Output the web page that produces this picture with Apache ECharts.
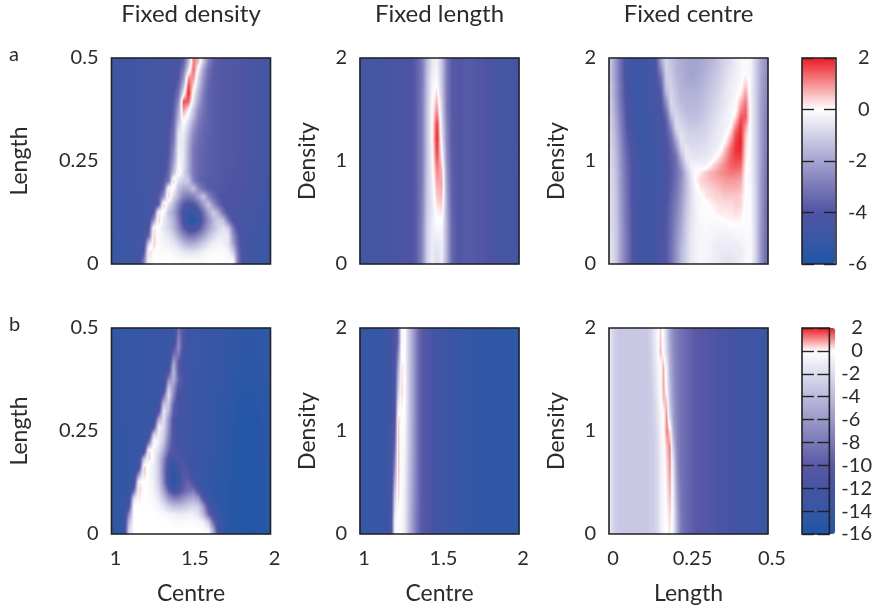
<!DOCTYPE html>
<html><head><meta charset="utf-8">
<style>html,body{margin:0;padding:0;background:#fff}#c{width:875px;height:610px}</style>
<script src="https://cdn.jsdelivr.net/npm/echarts@6/dist/echarts.min.js"></script>
</head><body><div id="c"></div>
<script>
// Rows run from the top of each panel to the bottom; columns from left to right.
const a1Rows=[
[-4.8,-4.8,-4.7,-4.7,-4.7,-4.6,-4.6,-4.6,-4.5,-4.5,-4.5,-4.4,-4.3,-4.2,-3.6,-1.6,1.2,0.6,-1.2,-2.8,-3.6,-3.85,-3.9,-3.9,-3.9,-3.9,-4,-4.1,-4.2,-4.3,-4.5,-4.6],
[-4.8,-4.8,-4.7,-4.7,-4.7,-4.6,-4.6,-4.6,-4.5,-4.5,-4.5,-4.4,-4.3,-4,-3,-0.6,1.4,-0.3,-2,-3.2,-3.75,-3.85,-3.9,-3.9,-3.9,-3.9,-4,-4.1,-4.2,-4.3,-4.5,-4.6],
[-4.8,-4.8,-4.7,-4.7,-4.7,-4.6,-4.6,-4.6,-4.5,-4.5,-4.5,-4.4,-4.2,-3.9,-2.4,1,1,-0.8,-2.4,-3.4,-3.75,-3.85,-3.9,-3.9,-3.9,-3.9,-4,-4.1,-4.2,-4.3,-4.5,-4.6],
[-4.8,-4.8,-4.7,-4.7,-4.7,-4.6,-4.6,-4.6,-4.5,-4.5,-4.5,-4.4,-4.2,-3.6,-1.6,1.7,0.4,-1.2,-2.6,-3.5,-3.75,-3.85,-3.9,-3.9,-3.9,-3.9,-4,-4.1,-4.2,-4.3,-4.5,-4.6],
[-4.8,-4.8,-4.7,-4.7,-4.7,-4.6,-4.6,-4.6,-4.5,-4.5,-4.5,-4.4,-4,-3.2,-0.4,2,-0.2,-1.7,-2.9,-3.6,-3.75,-3.85,-3.9,-3.9,-3.9,-3.9,-4,-4.1,-4.2,-4.3,-4.5,-4.6],
[-4.8,-4.8,-4.7,-4.7,-4.7,-4.6,-4.6,-4.6,-4.5,-4.5,-4.5,-4.4,-3.9,-2.6,1.6,1.4,-0.6,-2,-3,-3.6,-3.75,-3.85,-3.9,-3.9,-3.9,-3.9,-4,-4.1,-4.2,-4.3,-4.5,-4.6],
[-4.8,-4.8,-4.7,-4.7,-4.7,-4.6,-4.6,-4.6,-4.5,-4.5,-4.5,-4.3,-3.7,-2,1,0.2,-1.2,-2.5,-3.2,-3.6,-3.75,-3.85,-3.9,-3.9,-3.9,-3.9,-4,-4.1,-4.2,-4.3,-4.5,-4.6],
[-4.8,-4.8,-4.7,-4.7,-4.7,-4.6,-4.6,-4.6,-4.5,-4.5,-4.5,-4.3,-3.6,-1.6,0.3,-0.4,-1.6,-2.8,-3.3,-3.6,-3.75,-3.85,-3.9,-3.9,-3.9,-3.9,-4,-4.1,-4.2,-4.3,-4.5,-4.6],
[-4.8,-4.8,-4.7,-4.7,-4.7,-4.6,-4.6,-4.6,-4.5,-4.5,-4.5,-4.2,-3.4,-1,-0.1,-1,-2.2,-3,-3.4,-3.6,-3.75,-3.85,-3.9,-3.9,-3.9,-3.9,-4,-4.1,-4.2,-4.3,-4.5,-4.6],
[-4.8,-4.8,-4.7,-4.7,-4.7,-4.6,-4.6,-4.6,-4.5,-4.5,-4.4,-4,-3.2,-0.5,-0.4,-1.4,-2.6,-3.2,-3.5,-3.6,-3.75,-3.85,-3.9,-3.9,-3.9,-3.9,-4,-4.1,-4.2,-4.3,-4.5,-4.6],
[-4.8,-4.8,-4.7,-4.7,-4.7,-4.6,-4.6,-4.6,-4.5,-4.5,-4.4,-4,-3,-0.4,-0.5,-1.6,-2.8,-3.3,-3.5,-3.7,-3.75,-3.85,-3.9,-3.9,-3.9,-3.9,-4,-4.1,-4.2,-4.3,-4.5,-4.6],
[-4.8,-4.8,-4.7,-4.7,-4.7,-4.6,-4.6,-4.6,-4.5,-4.5,-4.4,-3.9,-2.6,-0.3,-0.5,-1.8,-3,-3.4,-3.6,-3.7,-3.8,-3.85,-3.9,-3.9,-3.9,-3.9,-4,-4.1,-4.2,-4.3,-4.5,-4.6],
[-4.8,-4.8,-4.7,-4.7,-4.7,-4.6,-4.6,-4.6,-4.5,-4.5,-4.4,-3.8,-2.4,-0.2,-0.5,-1.8,-3,-3.4,-3.6,-3.7,-3.8,-3.85,-3.9,-3.9,-3.9,-4,-4,-4.1,-4.2,-4.4,-4.5,-4.6],
[-4.8,-4.8,-4.7,-4.7,-4.7,-4.6,-4.6,-4.6,-4.5,-4.5,-4.3,-3.6,-2,-0.1,-0.6,-1.8,-3,-3.4,-3.6,-3.7,-3.8,-3.85,-3.9,-3.9,-3.9,-4,-4,-4.1,-4.2,-4.4,-4.5,-4.6],
[-4.8,-4.8,-4.7,-4.7,-4.7,-4.6,-4.6,-4.6,-4.5,-4.5,-4.2,-3.4,-1.4,0.3,-0.7,-1.8,-3,-3.4,-3.6,-3.7,-3.8,-3.85,-3.9,-3.9,-4,-4,-4.1,-4.2,-4.3,-4.4,-4.6,-4.7],
[-4.8,-4.8,-4.8,-4.7,-4.7,-4.6,-4.6,-4.6,-4.5,-4.4,-3.8,-3.2,0.6,-0.7,-1.1,-1.2,-2.8,-3.5,-3.7,-3.8,-3.8,-3.85,-3.9,-3.9,-4,-4,-4.1,-4.2,-4.3,-4.5,-4.6,-4.7],
[-4.8,-4.8,-4.8,-4.7,-4.7,-4.6,-4.6,-4.6,-4.5,-4.2,-3.6,0.3,-0.1,-1.4,-1.9,-1.9,-1.3,-2.5,-3.3,-3.7,-3.8,-3.9,-3.9,-4,-4,-4.1,-4.2,-4.3,-4.4,-4.5,-4.6,-4.7],
[-4.9,-4.8,-4.8,-4.7,-4.7,-4.7,-4.6,-4.6,-4.4,-3.8,-2.4,0.5,-0.8,-1.8,-2.8,-3,-2.8,-2,-1.2,-2.6,-3.4,-3.9,-4,-4,-4.1,-4.2,-4.2,-4.3,-4.4,-4.5,-4.6,-4.8],
[-4.9,-4.8,-4.8,-4.8,-4.7,-4.7,-4.6,-4.6,-4.3,-3.8,0.6,-0.6,-1.5,-2.8,-3.8,-4.2,-4,-3.2,-2.2,-1.2,-2.4,-3.4,-4,-4.1,-4.1,-4.2,-4.3,-4.4,-4.5,-4.6,-4.7,-4.8],
[-4.9,-4.9,-4.8,-4.8,-4.7,-4.7,-4.7,-4.5,-4,0.3,-0.1,-1.3,-2,-3.2,-4.3,-5,-5.2,-4.4,-3.2,-2,-1.1,-1.8,-3.2,-4.1,-4.2,-4.3,-4.4,-4.4,-4.5,-4.6,-4.7,-4.9],
[-4.9,-4.9,-4.8,-4.8,-4.8,-4.7,-4.7,-4.4,-2.4,0.5,-0.5,-1,-1.7,-2.9,-4.2,-5.4,-5.8,-4.8,-3.6,-2.5,-1.6,-1,-1.3,-3,-4.2,-4.3,-4.4,-4.5,-4.6,-4.7,-4.8,-4.9],
[-5,-4.9,-4.9,-4.8,-4.8,-4.7,-4.6,-4.2,0.3,-0.1,-0.5,-0.9,-1.5,-2.5,-3.6,-4.4,-4.6,-4,-3,-2.1,-1.4,-0.9,-0.6,-1,-3,-4.3,-4.5,-4.6,-4.6,-4.7,-4.8,-5],
[-5,-4.9,-4.9,-4.8,-4.8,-4.7,-4.5,-3.4,0.4,-0.1,-0.3,-0.5,-1,-1.7,-2.5,-3,-3,-2.6,-2,-1.4,-0.9,-0.5,-0.4,-0.5,-2.4,-3.7,-4.5,-4.6,-4.7,-4.8,-4.9,-5],
[-5,-5,-4.9,-4.9,-4.8,-4.7,-4.4,-0.8,0.4,-0.1,-0.2,-0.3,-0.5,-0.9,-1.4,-1.7,-1.7,-1.4,-1,-0.6,-0.3,-0.2,-0.3,-0.6,-2,-3.6,-4.5,-4.6,-4.7,-4.8,-4.9,-5],
[-5,-5,-4.9,-4.9,-4.8,-4.7,-4,0.4,0,-0.1,-0.1,-0.1,-0.2,-0.3,-0.5,-0.6,-0.6,-0.5,-0.3,-0.2,-0.1,-0.1,-0.1,-0.2,-1,-3.2,-4.4,-4.6,-4.7,-4.8,-4.9,-5],
[-5,-5,-4.9,-4.9,-4.8,-4.7,-3,0.2,0,0,0,0,0,-0.1,-0.1,-0.1,-0.1,-0.1,-0.1,0,0,0,0,-0.1,-0.1,-3,-4.4,-4.6,-4.7,-4.8,-4.9,-5]
];
const a2Rows=[
[-4.6,-4.6,-4.5,-4.5,-4.4,-4.3,-4.3,-4.2,-4.2,-4.1,-4,-3.6,-3,-1.5,-0.5,-0.3,-1.3,-3,-3.8,-3.9,-3.9,-3.8,-3.8,-3.9,-3.9,-4,-4.2,-4.3,-4.4,-4.5,-4.5,-4.6],
[-4.6,-4.6,-4.5,-4.5,-4.4,-4.3,-4.3,-4.2,-4.2,-4.1,-4,-3.6,-3,-1.4,-0.3,-0.1,-1.3,-3,-3.8,-3.9,-3.9,-3.8,-3.8,-3.9,-3.9,-4,-4.2,-4.3,-4.4,-4.5,-4.5,-4.6],
[-4.6,-4.6,-4.5,-4.5,-4.4,-4.3,-4.3,-4.2,-4.2,-4.1,-4,-3.6,-2.9,-1.4,-0.2,0.4,-1.2,-3,-3.8,-3.9,-3.9,-3.8,-3.8,-3.9,-3.9,-4,-4.2,-4.3,-4.4,-4.5,-4.5,-4.6],
[-4.6,-4.6,-4.5,-4.5,-4.4,-4.3,-4.3,-4.2,-4.2,-4.1,-4,-3.6,-2.9,-1.3,-0.1,1,-1,-3,-3.8,-3.9,-3.9,-3.8,-3.8,-3.9,-3.9,-4,-4.2,-4.3,-4.4,-4.5,-4.5,-4.6],
[-4.6,-4.6,-4.5,-4.5,-4.4,-4.3,-4.3,-4.2,-4.2,-4.1,-4,-3.6,-2.9,-1.3,-0.1,1.8,-0.8,-2.8,-3.8,-3.9,-3.9,-3.8,-3.8,-3.9,-3.9,-4,-4.2,-4.3,-4.4,-4.5,-4.5,-4.6],
[-4.6,-4.6,-4.5,-4.5,-4.4,-4.3,-4.3,-4.2,-4.2,-4.1,-4,-3.6,-2.9,-1.3,-0.1,2,-0.5,-2.7,-3.8,-3.9,-3.9,-3.8,-3.8,-3.9,-3.9,-4,-4.2,-4.3,-4.4,-4.5,-4.5,-4.6],
[-4.6,-4.6,-4.5,-4.5,-4.4,-4.3,-4.3,-4.2,-4.2,-4.1,-4,-3.6,-2.9,-1.3,-0.2,1.7,0,-2.6,-3.7,-3.9,-3.9,-3.8,-3.8,-3.9,-3.9,-4,-4.2,-4.3,-4.4,-4.5,-4.5,-4.6],
[-4.6,-4.6,-4.5,-4.5,-4.4,-4.3,-4.3,-4.2,-4.2,-4.1,-4,-3.6,-2.9,-1.3,-0.3,1.2,0.6,-2.4,-3.7,-3.9,-3.9,-3.8,-3.8,-3.9,-3.9,-4,-4.2,-4.3,-4.4,-4.5,-4.5,-4.6],
[-4.6,-4.6,-4.5,-4.5,-4.4,-4.3,-4.3,-4.2,-4.2,-4.1,-4,-3.6,-2.9,-1.2,-0.4,0.8,0.8,-2.2,-3.6,-3.9,-3.9,-3.8,-3.8,-3.9,-3.9,-4,-4.2,-4.3,-4.4,-4.5,-4.5,-4.6],
[-4.6,-4.6,-4.5,-4.5,-4.4,-4.3,-4.3,-4.2,-4.2,-4.1,-4,-3.6,-2.8,-1.2,-0.5,0.5,0.6,-2,-3.6,-3.9,-3.9,-3.8,-3.8,-3.9,-3.9,-4,-4.2,-4.3,-4.4,-4.5,-4.5,-4.6],
[-4.6,-4.6,-4.5,-4.5,-4.4,-4.3,-4.3,-4.2,-4.2,-4.1,-4,-3.6,-2.8,-1.1,-0.5,0.1,0.2,-1.9,-3.5,-3.9,-3.9,-3.8,-3.8,-3.9,-3.9,-4,-4.2,-4.3,-4.4,-4.5,-4.5,-4.6],
[-4.6,-4.6,-4.5,-4.5,-4.4,-4.3,-4.3,-4.2,-4.2,-4.1,-4,-3.6,-2.7,-1,-0.4,-0.1,-0.2,-1.8,-3.4,-3.9,-3.9,-3.8,-3.8,-3.9,-3.9,-4,-4.2,-4.3,-4.4,-4.5,-4.5,-4.6],
[-4.6,-4.6,-4.5,-4.5,-4.4,-4.3,-4.3,-4.2,-4.2,-4.1,-4,-3.6,-2.7,-1,-0.4,-0.5,-0.3,-1.8,-3.4,-3.9,-3.9,-3.8,-3.8,-3.9,-3.9,-4,-4.2,-4.3,-4.4,-4.5,-4.5,-4.6],
[-4.6,-4.6,-4.5,-4.5,-4.4,-4.3,-4.3,-4.2,-4.2,-4.1,-4,-3.6,-2.7,-1,-0.4,-0.7,-0.4,-1.8,-3.4,-3.9,-3.9,-3.8,-3.8,-3.9,-3.9,-4,-4.2,-4.3,-4.4,-4.5,-4.5,-4.6]
];
const a3Rows=[
[-1.4,-2.4,-3.4,-4.3,-4.7,-4.9,-4.8,-4.7,-4.5,-3.9,-2,-0.9,-1.3,-1.6,-1.8,-1.9,-2,-2,-1.9,-1.8,-1.6,-1.4,-1.1,-0.9,-0.7,-0.4,-0.2,-0.1,-0.2,-1,-1.8,-2.4],
[-1.4,-2.4,-3.4,-4.3,-4.7,-4.9,-4.8,-4.7,-4.5,-4,-2.6,-1,-1.2,-1.6,-1.8,-1.9,-2,-2,-1.9,-1.7,-1.5,-1.3,-1.1,-0.8,-0.6,-0.4,-0.2,-0.1,-0.2,-1,-1.8,-2.4],
[-1.4,-2.4,-3.4,-4.3,-4.7,-4.9,-4.8,-4.7,-4.5,-4.1,-3.2,-1,-1.1,-1.5,-1.7,-1.9,-2,-1.9,-1.8,-1.6,-1.4,-1.2,-1,-0.7,-0.5,-0.3,-0.2,0.2,-0.2,-1,-1.9,-2.5],
[-1.3,-2.3,-3.3,-4.2,-4.7,-4.9,-4.8,-4.7,-4.5,-4.2,-3.5,-1.2,-1,-1.4,-1.7,-1.8,-1.8,-1.8,-1.7,-1.5,-1.3,-1.1,-0.9,-0.6,-0.4,-0.3,-0.1,0.5,-0.2,-1,-1.9,-2.5],
[-1.3,-2.3,-3.3,-4.2,-4.7,-4.9,-4.9,-4.7,-4.6,-4.3,-3.8,-1.6,-0.9,-1.3,-1.6,-1.7,-1.7,-1.7,-1.6,-1.4,-1.2,-1,-0.8,-0.5,-0.4,-0.2,0.1,0.9,-0.3,-1,-1.9,-2.6],
[-1.2,-2.2,-3.2,-4.1,-4.6,-4.9,-4.9,-4.8,-4.6,-4.4,-4,-2.4,-0.8,-1.2,-1.5,-1.6,-1.6,-1.6,-1.5,-1.3,-1.1,-0.9,-0.7,-0.5,-0.3,-0.1,0.6,1.2,-0.2,-1,-2,-2.6],
[-1.2,-2.1,-3.1,-4,-4.6,-4.9,-4.9,-4.8,-4.6,-4.4,-4.1,-3,-1,-1,-1.3,-1.5,-1.5,-1.5,-1.4,-1.2,-1,-0.8,-0.6,-0.4,-0.2,-0.1,1,1.4,-0.2,-1,-2,-2.7],
[-1.1,-2,-3,-3.9,-4.5,-4.8,-4.9,-4.8,-4.7,-4.5,-4.2,-3.6,-1.6,-0.8,-1.1,-1.3,-1.4,-1.4,-1.3,-1.1,-0.9,-0.7,-0.5,-0.3,-0.2,0.3,1.5,1.5,-0.2,-1,-2,-2.7],
[-1.1,-1.9,-2.9,-3.8,-4.4,-4.8,-4.9,-4.9,-4.7,-4.5,-4.3,-3.8,-2.4,-0.7,-0.9,-1.1,-1.2,-1.2,-1.1,-1,-0.8,-0.6,-0.4,-0.3,-0.1,1,1.8,1,-0.2,-1,-2,-2.8],
[-1,-1.8,-2.8,-3.7,-4.3,-4.7,-4.9,-4.9,-4.8,-4.6,-4.3,-3.9,-3,-1.2,-0.6,-0.9,-1,-1,-1,-0.9,-0.7,-0.5,-0.4,-0.2,0.4,1.5,1.9,0.6,-0.2,-1,-2,-2.8],
[-1,-1.7,-2.7,-3.6,-4.2,-4.7,-4.9,-4.9,-4.8,-4.6,-4.4,-4,-3.4,-2,-0.6,-0.8,-0.9,-0.9,-0.8,-0.8,-0.6,-0.5,-0.3,0.1,0.9,1.7,2,0.4,-0.2,-1,-2,-2.8],
[-0.9,-1.6,-2.6,-3.5,-4.1,-4.6,-4.8,-4.9,-4.8,-4.7,-4.4,-4.1,-3.6,-2.6,-1,-0.5,-0.7,-0.7,-0.7,-0.6,-0.5,-0.4,-0.1,0.6,1.3,1.8,1.9,0.3,-0.2,-1,-2,-2.8],
[-0.9,-1.5,-2.5,-3.4,-4,-4.5,-4.8,-4.9,-4.8,-4.7,-4.5,-4.1,-3.7,-3.2,-1.6,-0.5,-0.5,-0.6,-0.5,-0.5,-0.4,-0.1,0.4,0.9,1.4,1.7,1.7,0.2,-0.2,-1,-2,-2.9],
[-0.9,-1.5,-2.5,-3.3,-3.9,-4.4,-4.7,-4.9,-4.8,-4.7,-4.5,-4.2,-3.8,-3.3,-2.2,-0.9,-0.3,-0.3,-0.3,-0.3,0.1,0.5,0.8,1.1,1.4,1.5,1.4,0.1,-0.2,-1,-2,-2.9],
[-0.8,-1.4,-2.4,-3.3,-3.9,-4.4,-4.7,-4.8,-4.8,-4.7,-4.5,-4.2,-3.8,-3.3,-2.6,-1.4,-0.5,0,0.2,0.5,0.7,0.8,1,1.1,1.2,1.2,1.1,0,-0.2,-1,-2.1,-2.9],
[-0.8,-1.4,-2.4,-3.2,-3.9,-4.4,-4.7,-4.8,-4.8,-4.7,-4.5,-4.2,-3.8,-3.2,-2.5,-1.5,-0.6,0.1,0.4,0.5,0.6,0.7,0.8,0.9,0.9,0.9,0.8,0,-0.2,-1,-2.1,-3],
[-0.8,-1.3,-2.4,-3.2,-3.9,-4.4,-4.7,-4.8,-4.8,-4.7,-4.4,-4.1,-3.7,-3.1,-2.4,-1.5,-0.7,-0.2,0.2,0.3,0.4,0.5,0.6,0.7,0.7,0.7,0.6,0,-0.1,-0.9,-2.1,-3],
[-0.8,-1.3,-2.3,-3.1,-3.9,-4.4,-4.7,-4.8,-4.8,-4.6,-4.4,-4.1,-3.6,-3,-2.3,-1.4,-0.7,-0.2,-0.1,0.2,0.3,0.4,0.4,0.5,0.5,0.5,0.4,0,-0.1,-0.9,-2.1,-3],
[-0.8,-1.3,-2.3,-3.1,-3.9,-4.4,-4.7,-4.8,-4.8,-4.6,-4.3,-4,-3.5,-2.9,-2.2,-1.3,-0.7,-0.3,-0.1,-0.1,0.1,0.2,0.3,0.3,0.3,0.4,0.4,-0.1,-0.1,-0.9,-2.1,-3.1],
[-0.8,-1.3,-2.3,-3.1,-3.8,-4.4,-4.7,-4.8,-4.8,-4.6,-4.3,-4,-3.4,-2.8,-2.1,-1.2,-0.7,-0.3,-0.1,-0.1,-0.1,0.1,0.2,0.2,0.2,0.3,0.2,-0.1,-0.1,-0.9,-2.1,-3.1],
[-0.8,-1.2,-2.3,-3.1,-3.8,-4.4,-4.7,-4.8,-4.7,-4.5,-4.2,-3.9,-3.4,-2.7,-2,-1.2,-0.6,-0.3,-0.1,-0.1,-0.1,-0.1,-0.1,0.05,0.1,0.1,0.1,-0.1,-0.1,-0.9,-2.1,-3.1],
[-0.8,-1.2,-2.2,-3,-3.8,-4.4,-4.7,-4.8,-4.7,-4.5,-4.1,-3.9,-3.3,-2.6,-1.9,-1.1,-0.6,-0.3,-0.2,-0.1,-0.2,-0.2,-0.2,-0.2,-0.1,-0.1,-0.1,-0.1,-0.1,-0.9,-2.2,-3.1],
[-0.7,-1.2,-2.2,-3,-3.8,-4.4,-4.7,-4.8,-4.7,-4.5,-4.1,-3.9,-3.3,-2.5,-1.8,-1.1,-0.5,-0.3,-0.2,-0.2,-0.2,-0.3,-0.3,-0.3,-0.3,-0.2,-0.2,-0.1,-0.1,-0.9,-2.2,-3.2],
[-0.7,-1.2,-2.2,-3,-3.8,-4.4,-4.7,-4.8,-4.7,-4.4,-4,-3.9,-3.2,-2.5,-1.7,-1,-0.5,-0.3,-0.2,-0.2,-0.3,-0.4,-0.4,-0.4,-0.4,-0.4,-0.3,-0.2,-0.1,-0.9,-2.2,-3.2],
[-0.7,-1.2,-2.2,-3,-3.8,-4.4,-4.7,-4.8,-4.7,-4.4,-4,-3.9,-3.2,-2.4,-1.6,-1,-0.5,-0.3,-0.2,-0.2,-0.3,-0.4,-0.5,-0.5,-0.5,-0.4,-0.4,-0.2,-0.1,-0.9,-2.2,-3.2],
[-0.7,-1.2,-2.2,-3,-3.8,-4.4,-4.7,-4.8,-4.7,-4.4,-4,-3.9,-3.2,-2.4,-1.6,-1,-0.5,-0.3,-0.2,-0.2,-0.3,-0.4,-0.5,-0.6,-0.6,-0.5,-0.4,-0.2,-0.1,-0.9,-2.2,-3.2]
];
const b1Rows=[
[-14.2,-14.2,-14,-14,-14,-13.8,-13.8,-13.8,-13.6,-13.6,-13.5,-13.4,-13.2,-8,-11,-13,-13.2,-13.3,-13.5,-13.6,-13.7,-13.8,-14,-14.2,-14.4,-14.5,-14.6,-14.7,-14.7,-14.6,-14.5,-14.4],
[-14.2,-14.2,-14,-14,-14,-13.8,-13.8,-13.8,-13.6,-13.6,-13.5,-13.4,-13.2,-7,-11,-13,-13.2,-13.3,-13.5,-13.6,-13.7,-13.8,-14,-14.2,-14.4,-14.5,-14.6,-14.7,-14.7,-14.6,-14.5,-14.4],
[-14.2,-14.2,-14,-14,-14,-13.8,-13.8,-13.8,-13.6,-13.6,-13.5,-13.4,-11,-6.5,-11.5,-12.8,-13.2,-13.3,-13.5,-13.6,-13.7,-13.8,-14,-14.2,-14.4,-14.5,-14.6,-14.7,-14.7,-14.6,-14.5,-14.4],
[-14.2,-14.2,-14,-14,-14,-13.8,-13.8,-13.8,-13.6,-13.6,-13.5,-13.3,-8,-8,-12,-12.8,-13.2,-13.3,-13.5,-13.6,-13.7,-13.8,-14,-14.2,-14.4,-14.5,-14.6,-14.7,-14.7,-14.6,-14.5,-14.4],
[-14.2,-14.2,-14,-14,-14,-13.8,-13.8,-13.8,-13.6,-13.6,-13.5,-13,-5,-10,-12.5,-12.8,-13.2,-13.3,-13.5,-13.6,-13.7,-13.9,-14,-14.3,-14.5,-14.6,-14.7,-14.8,-14.8,-14.7,-14.6,-14.5],
[-14.2,-14.2,-14,-14,-14,-13.8,-13.8,-13.8,-13.6,-13.6,-13.5,-11,-4,-10,-12,-12.8,-13.2,-13.4,-13.5,-13.6,-13.8,-13.9,-14,-14.3,-14.5,-14.6,-14.7,-14.8,-14.8,-14.7,-14.6,-14.5],
[-14.2,-14.2,-14,-14,-14,-13.8,-13.8,-13.8,-13.6,-13.6,-13.4,-7,-4.5,-9,-11.5,-12.6,-13.2,-13.4,-13.5,-13.7,-13.8,-14,-14.2,-14.4,-14.6,-14.8,-14.9,-15,-15,-14.9,-14.7,-14.5],
[-14.2,-14.2,-14,-14,-14,-13.8,-13.8,-13.8,-13.6,-13.5,-13.2,-3,-6,-10.5,-12,-12.6,-13.2,-13.4,-13.5,-13.7,-13.8,-14,-14.2,-14.4,-14.6,-14.8,-14.9,-15,-15,-14.9,-14.7,-14.5],
[-14.2,-14.2,-14,-14,-14,-13.8,-13.8,-13.8,-13.6,-13.4,-9,-1.5,-7,-12,-12.3,-12.6,-13.2,-13.4,-13.6,-13.8,-14,-14.2,-14.4,-14.6,-14.8,-15,-15.1,-15.1,-15.1,-15,-14.8,-14.6],
[-14.2,-14.2,-14,-14,-14,-13.8,-13.8,-13.8,-13.6,-13.3,-4,-3,-9,-12,-12.3,-12.6,-13.2,-13.4,-13.6,-13.8,-14,-14.2,-14.4,-14.6,-14.8,-15,-15.1,-15.1,-15.1,-15,-14.8,-14.7],
[-14.2,-14.2,-14,-14,-14,-13.8,-13.8,-13.8,-13.5,-11.5,-1.2,-4,-10,-12,-12.3,-12.6,-13.2,-13.4,-13.6,-13.8,-14.1,-14.3,-14.5,-14.7,-14.9,-15.1,-15.2,-15.2,-15.2,-15,-14.8,-14.7],
[-14.2,-14.2,-14,-14,-14,-13.8,-13.8,-13.8,-13.4,-5,-1.5,-6,-11,-12.3,-12.3,-12.6,-13.2,-13.4,-13.6,-13.8,-14.1,-14.3,-14.5,-14.7,-14.9,-15.1,-15.2,-15.3,-15.3,-15.1,-14.9,-14.7],
[-14.3,-14.2,-14.1,-14,-14,-13.9,-13.8,-13.6,-11,-0.6,-2,-6.5,-11,-12.3,-12.3,-12.7,-13.2,-13.4,-13.6,-13.9,-14.1,-14.3,-14.5,-14.7,-15,-15.2,-15.3,-15.4,-15.4,-15.2,-15,-14.8],
[-14.3,-14.2,-14.1,-14,-14,-13.9,-13.8,-13.3,-2.5,-1,-2.8,-7,-11,-12.3,-12.3,-12.7,-13.2,-13.4,-13.6,-13.9,-14.1,-14.3,-14.5,-14.8,-15,-15.2,-15.3,-15.4,-15.4,-15.2,-15,-14.8],
[-14.3,-14.2,-14.1,-14,-14,-13.9,-13.7,-8,0.5,-1,-3.5,-8,-11,-12.2,-12.3,-12.7,-13.2,-13.5,-13.7,-13.9,-14.2,-14.4,-14.6,-14.8,-15,-15.2,-15.3,-15.4,-15.4,-15.2,-15,-14.8],
[-14.3,-14.2,-14.1,-14,-14,-13.9,-13.3,0.5,-0.6,-2,-5,-9,-11,-11.5,-12.5,-12.8,-13.2,-13.5,-13.7,-13.9,-14.2,-14.4,-14.6,-14.8,-15.1,-15.3,-15.4,-15.5,-15.4,-15.2,-15,-14.8],
[-14.3,-14.2,-14.1,-14.1,-14,-13.3,-4,0.6,-0.5,-3,-7,-11,-12.5,-11,-11.5,-12.8,-13.2,-13.5,-13.7,-14,-14.2,-14.4,-14.7,-14.9,-15.1,-15.3,-15.4,-15.5,-15.4,-15.2,-15,-14.9],
[-14.3,-14.2,-14.1,-14.1,-13.9,-13,0.6,-0.3,-1,-3,-7.5,-12,-14.5,-12,-10.5,-12,-13.2,-13.5,-13.8,-14,-14.2,-14.5,-14.7,-14.9,-15.1,-15.3,-15.4,-15.5,-15.4,-15.2,-15,-14.9],
[-14.3,-14.3,-14.2,-14.1,-13.3,-6,0.5,-0.2,-0.9,-3,-7.5,-12.5,-15.5,-13,-10,-11,-12.8,-13.5,-13.8,-14,-14.3,-14.5,-14.7,-14.9,-15.1,-15.3,-15.4,-15.5,-15.4,-15.2,-15,-14.9],
[-14.3,-14.3,-14.2,-14.1,-13,0.3,-0.1,-0.3,-0.9,-2.8,-7,-12,-15.8,-13,-10,-9,-11.5,-13,-13.8,-14.1,-14.3,-14.5,-14.8,-15,-15.2,-15.3,-15.4,-15.5,-15.4,-15.2,-15,-14.9],
[-14.3,-14.3,-14.2,-14.1,-9,0.4,0,-0.2,-0.7,-2.2,-5.5,-9.5,-12,-11,-9.5,-8.5,-8,-11,-13,-14,-14.3,-14.6,-14.8,-15,-15.2,-15.3,-15.4,-15.5,-15.4,-15.2,-15,-14.9],
[-14.4,-14.3,-14.2,-13.2,-2,0.2,-0.1,-0.1,-0.4,-1.4,-3.4,-6,-7.5,-7.5,-6.5,-5.5,-5,-6,-11,-13,-14.3,-14.6,-14.8,-15,-15.2,-15.3,-15.4,-15.5,-15.4,-15.2,-15,-14.9],
[-14.4,-14.3,-14.2,-11.5,0.1,0,0,0,-0.2,-0.6,-1.5,-2.8,-3.6,-3.8,-3.4,-2.8,-2.4,-2.8,-6,-11,-13,-14.6,-14.8,-15,-15.2,-15.3,-15.4,-15.5,-15.4,-15.2,-15,-14.9],
[-14.4,-14.3,-14.2,-7,-0.1,0,0,0,0,-0.1,-0.3,-0.6,-0.9,-1.1,-1.1,-0.9,-0.9,-1.6,-4,-9,-12,-13,-14.8,-15,-15.2,-15.3,-15.4,-15.5,-15.4,-15.2,-15,-14.9],
[-14.4,-14.3,-14.2,-4,0,0,0,0,0,0,0,-0.1,-0.2,-0.3,-0.3,-0.2,-0.2,-0.3,-0.7,-3,-9,-12,-14.6,-15,-15.2,-15.3,-15.4,-15.5,-15.4,-15.2,-15,-14.9],
[-14.4,-14.3,-14.2,-2.5,0,0,0,0,0,0,0,0,0,0,0,0,0,0,-0.1,-0.4,-5,-12,-14.5,-15,-15.2,-15.3,-15.4,-15.5,-15.4,-15.2,-15,-14.9]
];
const b2Rows=[
[-14,-14,-14,-14,-14,-14,-14,-13.5,-13,-12,-11.5,-9,-0.5,0,-2.5,-4.5,-6.5,-8.5,-9.8,-10.5,-11,-11.5,-12,-12.4,-12.7,-13,-13.2,-13.4,-13.5,-13.7,-13.8,-14,-14.1,-14.2,-14.3,-14.4,-14.4,-14.5,-14.5,-14.5,-14.5,-14.6,-14.6,-14.6,-14.6,-14.6,-14.6,-14.6],
[-14,-14,-14,-14,-14,-14,-14,-13.5,-13,-12,-11.5,-5.5,0.3,0,-2.5,-4.5,-6.5,-8.5,-9.8,-10.5,-11,-11.5,-12,-12.4,-12.7,-13,-13.2,-13.4,-13.5,-13.7,-13.8,-14,-14.1,-14.2,-14.3,-14.4,-14.4,-14.5,-14.5,-14.5,-14.5,-14.6,-14.6,-14.6,-14.6,-14.6,-14.6,-14.6],
[-14,-14,-14,-14,-14,-14,-14,-13.5,-13,-12,-11.5,-3,0.4,-0.1,-2.4,-4.5,-6.5,-8.5,-9.8,-10.5,-11,-11.5,-12,-12.4,-12.7,-13,-13.2,-13.4,-13.5,-13.7,-13.8,-14,-14.1,-14.2,-14.3,-14.4,-14.4,-14.5,-14.5,-14.5,-14.5,-14.6,-14.6,-14.6,-14.6,-14.6,-14.6,-14.6],
[-14,-14,-14,-14,-14,-14,-14,-13.5,-13,-12,-11,0.4,0,-0.2,-2.5,-4.5,-6.5,-8.5,-9.8,-10.5,-11,-11.5,-12,-12.4,-12.7,-13,-13.2,-13.4,-13.5,-13.7,-13.8,-14,-14.1,-14.2,-14.3,-14.4,-14.4,-14.5,-14.5,-14.5,-14.5,-14.6,-14.6,-14.6,-14.6,-14.6,-14.6,-14.6],
[-14,-14,-14,-14,-14,-14,-14,-13.5,-13,-12,-9,0.6,-0.2,-0.5,-2.6,-4.6,-6.5,-8.5,-9.8,-10.5,-11,-11.5,-12,-12.4,-12.7,-13,-13.2,-13.4,-13.5,-13.7,-13.8,-14,-14.1,-14.2,-14.3,-14.4,-14.4,-14.5,-14.5,-14.5,-14.5,-14.6,-14.6,-14.6,-14.6,-14.6,-14.6,-14.6],
[-14,-14,-14,-14,-14,-14,-14,-13.5,-13,-12,-6.5,0.6,-0.1,-0.8,-2.8,-4.8,-6.6,-8.5,-9.8,-10.5,-11,-11.5,-12,-12.4,-12.7,-13,-13.2,-13.4,-13.5,-13.7,-13.8,-14,-14.1,-14.2,-14.3,-14.4,-14.4,-14.5,-14.5,-14.5,-14.5,-14.6,-14.6,-14.6,-14.6,-14.6,-14.6,-14.6],
[-14,-14,-14,-14,-14,-14,-14,-13.5,-13,-11.5,-3,0.4,-0.2,-1,-3,-5,-6.8,-8.5,-9.8,-10.5,-11,-11.5,-12,-12.4,-12.7,-13,-13.2,-13.4,-13.5,-13.7,-13.8,-14,-14.1,-14.2,-14.3,-14.4,-14.4,-14.5,-14.5,-14.5,-14.5,-14.6,-14.6,-14.6,-14.6,-14.6,-14.6,-14.6],
[-14,-14,-14,-14,-14,-14,-14,-13.5,-12.5,-11,-0.5,-0.1,-0.3,-1.2,-3.2,-5.2,-7,-8.6,-9.8,-10.5,-11,-11.5,-12,-12.4,-12.7,-13,-13.2,-13.4,-13.5,-13.7,-13.8,-14,-14.1,-14.2,-14.3,-14.4,-14.4,-14.5,-14.5,-14.5,-14.5,-14.6,-14.6,-14.6,-14.6,-14.6,-14.6,-14.6]
];
const b3Rows=[
[-1.6,-2.6,-3,-3.2,-3.2,-3.2,-3.2,-3.2,-3.2,-3.2,-3.1,-3.1,-2.6,-1.6,-0.6,0.5,-0.3,-3,-5.5,-7,-7.8,-8.2,-8.6,-9,-9.4,-9.7,-10,-10.2,-10.4,-10.6,-10.8,-11,-11.2,-11.4,-11.5,-11.7,-11.8,-12,-12.1,-12.2,-12.3,-12.4,-12.6,-12.8,-13,-13.2,-13.4,-13.6],
[-1.6,-2.6,-3,-3.2,-3.2,-3.2,-3.2,-3.2,-3.2,-3.2,-3.1,-3.1,-2.8,-1.8,-0.7,0.7,-0.2,-2.6,-5.2,-6.8,-7.7,-8.2,-8.6,-9,-9.4,-9.7,-10,-10.2,-10.4,-10.6,-10.8,-11,-11.2,-11.4,-11.5,-11.7,-11.8,-12,-12.1,-12.2,-12.3,-12.4,-12.6,-12.8,-13,-13.2,-13.4,-13.6],
[-1.6,-2.6,-3,-3.2,-3.2,-3.2,-3.2,-3.2,-3.2,-3.2,-3.1,-3.1,-2.9,-2,-0.9,-0.2,0.8,-1,-4.8,-6.6,-7.6,-8.2,-8.6,-9,-9.4,-9.7,-10,-10.2,-10.4,-10.6,-10.8,-11,-11.2,-11.4,-11.5,-11.7,-11.8,-12,-12.1,-12.2,-12.3,-12.4,-12.6,-12.8,-13,-13.2,-13.4,-13.6],
[-1.6,-2.6,-3,-3.2,-3.2,-3.2,-3.2,-3.2,-3.2,-3.2,-3.1,-3.1,-3,-2.2,-1.1,-0.3,0.9,-0.8,-4.4,-6.4,-7.5,-8.2,-8.6,-9,-9.4,-9.7,-10,-10.2,-10.4,-10.6,-10.8,-11,-11.2,-11.4,-11.5,-11.7,-11.8,-12,-12.1,-12.2,-12.3,-12.4,-12.6,-12.8,-13,-13.2,-13.4,-13.6],
[-1.6,-2.6,-3,-3.2,-3.2,-3.2,-3.2,-3.2,-3.2,-3.2,-3.1,-3.1,-3,-2.5,-1.4,-0.4,0.7,0.4,-3.8,-6.2,-7.4,-8.2,-8.6,-9,-9.4,-9.7,-10,-10.2,-10.4,-10.6,-10.8,-11,-11.2,-11.4,-11.5,-11.7,-11.8,-12,-12.1,-12.2,-12.3,-12.4,-12.6,-12.8,-13,-13.2,-13.4,-13.6],
[-1.6,-2.6,-3,-3.2,-3.2,-3.2,-3.2,-3.2,-3.2,-3.2,-3.1,-3.1,-3,-2.7,-1.7,-0.6,-0.1,1.1,-2.6,-6,-7.3,-8.2,-8.6,-9,-9.4,-9.7,-10,-10.2,-10.4,-10.6,-10.8,-11,-11.2,-11.4,-11.5,-11.7,-11.8,-12,-12.1,-12.2,-12.3,-12.4,-12.6,-12.8,-13,-13.2,-13.4,-13.6],
[-1.6,-2.6,-3,-3.2,-3.2,-3.2,-3.2,-3.2,-3.2,-3.2,-3.1,-3.1,-3,-2.8,-2,-0.8,-0.1,1.2,0.2,-5.4,-7.2,-8.2,-8.6,-9,-9.4,-9.7,-10,-10.2,-10.4,-10.6,-10.8,-11,-11.2,-11.4,-11.5,-11.7,-11.8,-12,-12.1,-12.2,-12.3,-12.4,-12.6,-12.8,-13,-13.2,-13.4,-13.6],
[-1.6,-2.6,-3,-3.2,-3.2,-3.2,-3.2,-3.2,-3.2,-3.2,-3.1,-3.1,-3,-2.9,-2.2,-1,-0.2,0.6,1.2,-3.5,-7,-8.2,-8.6,-9,-9.4,-9.7,-10,-10.2,-10.4,-10.6,-10.8,-11,-11.2,-11.4,-11.5,-11.7,-11.8,-12,-12.1,-12.2,-12.3,-12.4,-12.6,-12.8,-13,-13.2,-13.4,-13.6],
[-1.6,-2.6,-3,-3.2,-3.2,-3.2,-3.2,-3.2,-3.2,-3.2,-3.1,-3.1,-3,-2.9,-2.3,-1.1,-0.3,0.4,1.1,-2,-6.5,-8.2,-8.6,-9,-9.4,-9.7,-10,-10.2,-10.4,-10.6,-10.8,-11,-11.2,-11.4,-11.5,-11.7,-11.8,-12,-12.1,-12.2,-12.3,-12.4,-12.6,-12.8,-13,-13.2,-13.4,-13.6],
[-1.6,-2.6,-3,-3.2,-3.2,-3.2,-3.2,-3.2,-3.2,-3.2,-3.1,-3.1,-3,-2.9,-2.3,-1.1,-0.3,0.3,0.9,-1.6,-6,-8,-8.6,-9,-9.4,-9.7,-10,-10.2,-10.4,-10.6,-10.8,-11,-11.2,-11.4,-11.5,-11.7,-11.8,-12,-12.1,-12.2,-12.3,-12.4,-12.6,-12.8,-13,-13.2,-13.4,-13.6],
[-1.6,-2.6,-3,-3.2,-3.2,-3.2,-3.2,-3.2,-3.2,-3.2,-3.1,-3.1,-3,-2.9,-2.3,-1.1,-0.3,0.2,0.7,-1.2,-5.5,-7.8,-8.6,-9,-9.4,-9.7,-10,-10.2,-10.4,-10.6,-10.8,-11,-11.2,-11.4,-11.5,-11.7,-11.8,-12,-12.1,-12.2,-12.3,-12.4,-12.6,-12.8,-13,-13.2,-13.4,-13.6],
[-1.6,-2.6,-3,-3.2,-3.2,-3.2,-3.2,-3.2,-3.2,-3.2,-3.1,-3.1,-3,-2.9,-2.3,-1.1,-0.3,0.1,0.5,-1,-5,-7.6,-8.6,-9,-9.4,-9.7,-10,-10.2,-10.4,-10.6,-10.8,-11,-11.2,-11.4,-11.5,-11.7,-11.8,-12,-12.1,-12.2,-12.3,-12.4,-12.6,-12.8,-13,-13.2,-13.4,-13.6],
[-1.6,-2.6,-3,-3.2,-3.2,-3.2,-3.2,-3.2,-3.2,-3.2,-3.1,-3.1,-3,-2.9,-2.3,-1.1,-0.3,0,0.3,-1,-4.5,-7.4,-8.6,-9,-9.4,-9.7,-10,-10.2,-10.4,-10.6,-10.8,-11,-11.2,-11.4,-11.5,-11.7,-11.8,-12,-12.1,-12.2,-12.3,-12.4,-12.6,-12.8,-13,-13.2,-13.4,-13.6]
];
const panelRows=[a1Rows,a2Rows,a3Rows,b1Rows,b2Rows,b3Rows];
const panelTitles=['Fixed density','Fixed length','Fixed centre'];
const rowLetters=['a','b'];
const centreRange=[1,2,0.5], lengthRange=[0,0.5,0.25], densityRange=[0,2,1];
const panelX=[centreRange,centreRange,lengthRange,centreRange,centreRange,lengthRange];
const panelY=[lengthRange,densityRange,densityRange,lengthRange,densityRange,densityRange];
const xNames=['','','','Centre','Centre','Length'];
const yNames=['Length','Density','Density','Length','Density','Density'];
const scaleA=[-6,2,2], scaleB=[-16,2,2];
const coloursA=['#1d56a7','#3a57a5','#4e54a3','#7a78b8','#a5a4d0','#d2d1e8','#ffffff','#f68e92','#ed1c24'];
const coloursB=['#1d56a7','#3557a5','#4454a4','#5958a7','#7a78b8','#9b9ac9','#bbbadd','#dcdcee','#ffffff','#ed1c24'];

// Layout
const FONT='Lato', INK='#2b2b2b';
const colLeft=[111.5,360,609], rowTop=[58,328], W=159, H=206, barLeft=802, barW=34;
const grids=[],xAxes=[],yAxes=[],series=[],titles=[];
const labelStyle={fontFamily:FONT,fontSize:20,color:INK};
const nameStyle={fontFamily:FONT,fontSize:23,color:INK};

// Shading: a canvas that resamples a panel's rows smoothly, the way the reference is shaded.
function shade(rows,scale,colours){
  const cv=document.createElement('canvas');cv.width=W*2;cv.height=H*2;
  const ctx=cv.getContext('2d'),img=ctx.createImageData(cv.width,cv.height);
  const lut=[];for(let i=0;i<=512;i++)lut.push(echarts.color.parse(echarts.color.lerp(i/512,colours)));
  const nr=rows.length,nc=rows[0].length;
  for(let py=0;py<cv.height;py++){
    const fy=Math.min(nr-1,Math.max(0,(py+.5)/cv.height*nr-.5)),y0=Math.floor(fy),y1=Math.min(nr-1,y0+1),ty=fy-y0;
    for(let px=0;px<cv.width;px++){
      const fx=Math.min(nc-1,Math.max(0,(px+.5)/cv.width*nc-.5)),x0=Math.floor(fx),x1=Math.min(nc-1,x0+1),tx=fx-x0;
      const v=(rows[y0][x0]*(1-tx)+rows[y0][x1]*tx)*(1-ty)+(rows[y1][x0]*(1-tx)+rows[y1][x1]*tx)*ty;
      const c=lut[Math.round((v-scale[0])/(scale[1]-scale[0])*512)],o=(py*cv.width+px)*4;
      img.data[o]=c[0];img.data[o+1]=c[1];img.data[o+2]=c[2];img.data[o+3]=255;
    }
  }
  ctx.putImageData(img,0,0);return cv;
}

const shades=[];
panelRows.forEach((rows,i)=>{
  const row=i<3?0:1,col=i%3;
  grids.push({left:colLeft[col],top:rowTop[row],width:W,height:H,show:true,borderColor:'#222',borderWidth:1.6,backgroundColor:'transparent',z:10});
  const nr=rows.length,data=[];
  rows.forEach((r,y)=>r.forEach((v,x)=>data.push([x,nr-1-y,v])));
  xAxes.push({type:'category',gridIndex:i,show:false,data:rows[0].map((_,k)=>k)});
  yAxes.push({type:'category',gridIndex:i,show:false,data:rows.map((_,k)=>k)});
  const xr=panelX[i],yr=panelY[i];
  xAxes.push({type:'value',gridIndex:i,position:'bottom',min:xr[0],max:xr[1],interval:xr[2],show:row===1,
    axisLine:{show:false},axisTick:{show:false},splitLine:{show:false},
    axisLabel:Object.assign({margin:15,padding:[0,0,0,8]},labelStyle),
    name:xNames[i],nameLocation:'middle',nameGap:48,nameTextStyle:nameStyle});
  yAxes.push({type:'value',gridIndex:i,position:'left',min:yr[0],max:yr[1],interval:yr[2],
    axisLine:{show:false},axisTick:{show:false},splitLine:{show:false},
    axisLabel:Object.assign({margin:13,padding:[3,0,0,0]},labelStyle),
    name:yNames[i],nameLocation:'middle',nameGap:col===0?80:41,nameTextStyle:nameStyle});
  series.push({type:'heatmap',xAxisIndex:xAxes.length-2,yAxisIndex:yAxes.length-2,data:data,silent:true,progressive:0,animation:false,emphasis:{disabled:true}});
  shades.push({rows,i,xa:xAxes.length-1,ya:yAxes.length-1,xr,yr,row});
});
shades.forEach(s=>{
  const img=shade(s.rows,s.row===0?scaleA:scaleB,s.row===0?coloursA:coloursB);
  series.push({type:'custom',xAxisIndex:s.xa,yAxisIndex:s.ya,z:3,silent:true,clip:true,
    data:[[s.xr[0],s.yr[0],s.xr[1],s.yr[1]]],encode:{x:[0,2],y:[1,3]},
    renderItem:(p,api)=>{
      const a=api.coord([api.value(0),api.value(3)]),b=api.coord([api.value(2),api.value(1)]);
      return {type:'image',style:{image:img,x:a[0],y:a[1],width:b[0]-a[0],height:b[1]-a[1]}};
    }});
});
const visualMaps=[[scaleA,coloursA,[0,1,2],0],[scaleB,coloursB,[3,4,5],1]].map(([s,c,idx,row])=>{
  const gi=grids.length;
  grids.push({left:barLeft,top:rowTop[row],width:barW,height:H,show:true,borderColor:'#222',borderWidth:1.6,backgroundColor:'transparent',z:10});
  xAxes.push({type:'value',gridIndex:gi,show:false,min:0,max:1});
  const tick={show:true,inside:true,length:12,lineStyle:{color:'#222',width:1.4}};
  yAxes.push({type:'value',gridIndex:gi,position:'left',min:s[0],max:s[1],interval:s[2],z:10,
    axisLine:{show:false},axisTick:tick,axisLabel:{show:false},splitLine:{show:false}});
  yAxes.push({type:'value',gridIndex:gi,position:'right',min:s[0],max:s[1],interval:s[2],z:10,
    axisLine:{show:false},axisTick:tick,splitLine:{show:false},
    axisLabel:Object.assign({margin:12,padding:[3,0,0,0],align:'left',formatter:v=>v>=0?'\u2002'+v:String(v)},labelStyle)});
  return {type:'continuous',seriesIndex:idx,min:s[0],max:s[1],inRange:{color:c},left:barLeft,top:rowTop[row],
    itemWidth:barW-1,itemHeight:H,padding:0,text:null,calculable:false,hoverLink:false,silent:true};
});
panelTitles.forEach((t,c)=>titles.push({text:t,left:colLeft[c]+W/2,top:2,padding:0,textAlign:'center',textStyle:{fontFamily:FONT,fontSize:24,fontWeight:'normal',color:INK}}));
rowLetters.forEach((t,r)=>titles.push({text:t,left:9,top:rowTop[r]-13,padding:0,textStyle:{fontFamily:FONT,fontSize:20,fontWeight:'normal',color:INK}}));

const chart=echarts.init(document.getElementById('c'),null,{renderer:'canvas'});
chart.setOption({animation:false,backgroundColor:'#fff',title:titles,grid:grids,xAxis:xAxes,yAxis:yAxes,visualMap:visualMaps,series:series});
</script></body></html>
